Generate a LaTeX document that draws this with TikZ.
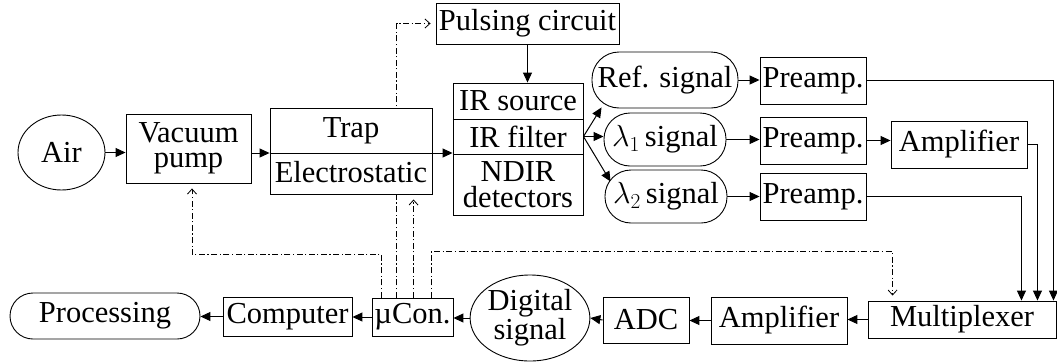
\RequirePackage{fix-cm}
\documentclass[tikz,border=0pt]{standalone}
\usepackage{fontspec}
\setmainfont{Liberation Serif}
\usetikzlibrary{arrows.meta,calc,backgrounds,shapes.geometric}

\tikzset{
  blk/.style={draw, line width=0.9pt, fill=white, inner sep=0pt, align=center},
  pill/.style={blk, rounded corners=#1},
  oval/.style={draw, ellipse, line width=0.9pt, fill=white, inner sep=0pt, align=center},
  lbl/.style={inner sep=0pt, align=center},
  flow/.style={line width=1pt, -{Triangle[length=10pt,width=9pt]}},
  ctrl/.style={line width=0.8pt, dash pattern=on 6pt off 2.5pt on 1.2pt off 2.5pt,
    -{Straight Barb[length=5pt,width=9pt]}, shorten >=5pt},
  divider/.style={line width=0.9pt}
}

\begin{document}
\begin{tikzpicture}[x=1pt, y=-1pt, font=\fontsize{30.5}{25.5}\selectfont]
\useasboundingbox (0,0) rectangle (1057,362);

% ---- gas path and optical bench
\node[oval, minimum width=87pt, minimum height=75pt] (air) at (61.5,152.5) {Air};
\node[blk, minimum width=125pt, minimum height=69pt] (vac) at (188.5,148.5) {Vacuum\\pump};
\node[blk, minimum width=162pt, minimum height=86pt] (trap) at (351,151) {};
\node[lbl] (trapT) at (351,131) {Trap};
\node[lbl] (trapE) at (351,172) {Electrostatic};
\node[blk, minimum width=183pt, minimum height=41pt] (pulse) at (527.5,23.5) {Pulsing circuit};
\node[blk, minimum width=130pt, minimum height=132pt] (ir) at (518,149) {};
\node[lbl] (irs) at (518,101) {IR source};
\node[lbl] (irf) at (518,136.5) {IR filter};
\node[lbl] (ndir) at (518,184.5) {NDIR\\detectors};

\coordinate (lev) at (0,153);
\draw[divider] (trap.west |- lev) -- (trap.east |- lev);
\draw[divider] (ir.west |- 0,119) -- (ir.east |- 0,119);
\draw[divider] (ir.west |- 0,154) -- (ir.east |- 0,154);

% ---- detector channels
\node[pill=27pt, minimum width=146pt, minimum height=56pt] (ref) at (665,80) {Ref. signal};
\node[pill=26pt, minimum width=122pt, minimum height=53pt] (la) at (665,139.5) {$\lambda_1$\,signal};
\node[pill=26pt, minimum width=122pt, minimum height=53pt] (lb) at (666,196.5) {$\lambda_2$\,signal};
\node[blk, minimum width=106pt, minimum height=47pt] (pa) at (813,80.5) {Preamp.};
\node[blk, minimum width=106pt, minimum height=47pt] (pb) at (813,140.5) {Preamp.};
\node[blk, minimum width=106pt, minimum height=47pt] (pc) at (813,196.5) {Preamp.};
\node[blk, minimum width=136pt, minimum height=47pt] (ampa) at (959,144.5) {Amplifier};

% ---- acquisition chain
\node[blk, minimum width=188pt, minimum height=37pt] (mux) at (962,319.5) {Multiplexer};
\node[blk, minimum width=136pt, minimum height=47pt] (ampb) at (779,320.5) {Amplifier};
\node[blk, minimum width=86pt, minimum height=46pt] (adc) at (646,320) {ADC};
\node[oval, minimum width=110pt, minimum height=86pt] (dig) at (530,318) {Digital\\signal};
\node[blk, minimum width=81pt, minimum height=38pt] (mcu) at (412.5,317) {µCon.};
\node[blk, minimum width=129pt, minimum height=39pt] (comp) at (287.5,316.5) {Computer};
\node[pill=23pt, minimum width=190pt, minimum height=46pt] (proc) at (105,316) {Processing};

\begin{pgfonlayer}{background}
  \fill[white] (0,0) rectangle (1057,362);

  % main flow
  \draw[flow] (air.east) -- (vac.west |- air.east);
  \draw[flow] (vac.east |- lev) -- (trap.west |- lev);
  \draw[flow] (trap.east |- lev) -- (ir.west |- lev);
  \draw[flow] (pulse.south) -- (pulse.south |- ir.north);
  \coordinate (fo) at (ir.east |- irf);
  \draw[flow] (fo) -- ($(ref.south west)+(10,-1)$);
  \draw[flow] (fo) -- (la.west |- fo);
  \draw[flow] (fo) -- ($(lb.north west)+(6,12)$);
  \draw[flow] (ref.east) -- (pa.west |- ref.east);
  \draw[flow] (la.east) -- (pb.west |- la.east);
  \draw[flow] (lb.east) -- (pc.west |- lb.east);
  \draw[flow] (pb.east) -- (ampa.west |- pb.east);
  \draw[flow] (pa.east) -| ($(mux.north east)+(-3,0)$);
  \draw[flow] (ampa.east) -| ($(mux.north east)+(-19,0)$);
  \draw[flow] (pc.east) -| ($(mux.north east)+(-35,0)$);
  \draw[flow] (mux.west) -- (ampb.east |- mux.west);
  \draw[flow] (ampb.west) -- (adc.east |- ampb.west);
  \draw[flow] (adc.west) -- (dig.east);
  \draw[flow] (dig.west) -- (mcu.east |- dig.west);
  \draw[flow] (mcu.west) -- (comp.east |- mcu.west);
  \draw[flow] (comp.west) -- (proc.east |- comp.west);

  % control lines from the microcontroller
  \coordinate (c1) at ($(mcu.north west)+(10,0)$);
  \coordinate (c2) at ($(mcu.north west)+(25,0)$);
  \coordinate (c3) at ($(mcu.north west)+(42,0)$);
  \coordinate (c4) at ($(mcu.north east)+(-22,0)$);
  \draw[ctrl] (c1) -- ++(0,-43) -| ($(vac.south)+(3.5,0)$);
  \draw[ctrl] (c2) |- (pulse.west);
  \draw[ctrl] (c3) -- (c3 |- trap.south);
  \draw[ctrl] (c4) -- ++(0,-46) -| ($(mux.north west)+(25,0)$);
\end{pgfonlayer}
\end{tikzpicture}
\end{document}
